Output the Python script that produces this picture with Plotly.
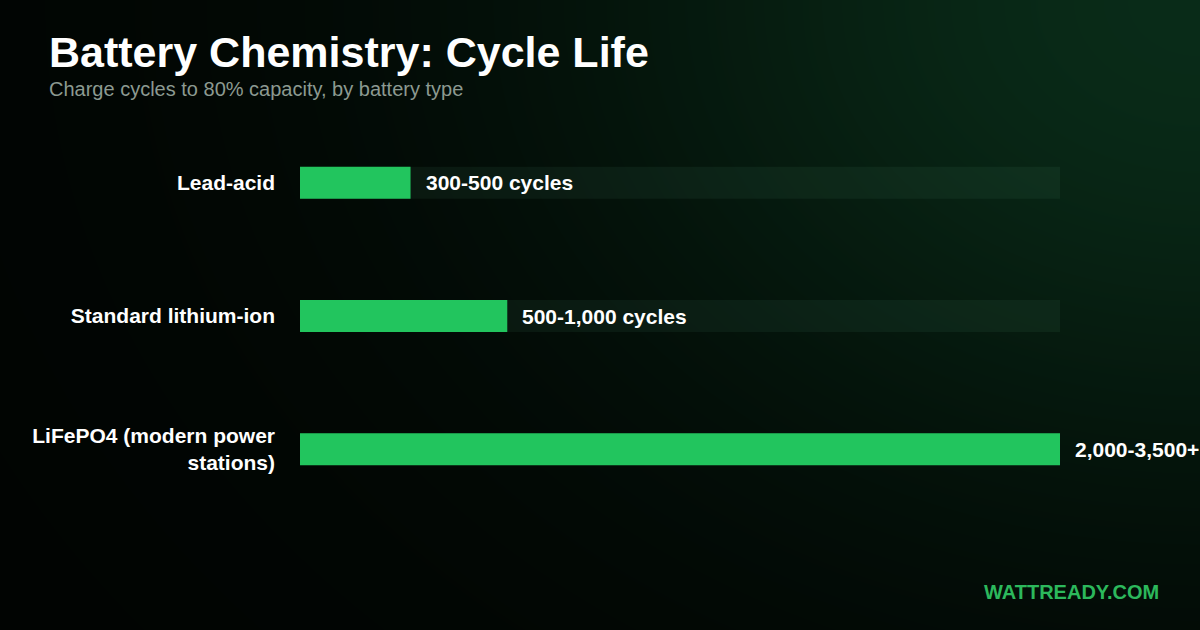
import numpy as np
import plotly.graph_objects as go

# ---- data ----
categories = ["Lead-acid", "Standard lithium-ion", "LiFePO4 (modern power<br>stations)"]
cycle_mid = [400, 750, 2750]          # midpoint of each range
range_labels = ["300-500 cycles", "500-1,000 cycles", "2,000-3,500+ cycles"]
scale_max = 2750

title = "Battery Chemistry: Cycle Life"
subtitle = "Charge cycles to 80% capacity, by battery type"
brand = "WATTREADY.COM"

W, H = 1200, 630
GREEN = "#22c55e"
FONT = "Liberation Sans, Arial, Helvetica, sans-serif"

# ---- background glow (style only) ----
gx = np.linspace(0, W, 121)
gy = np.linspace(0, H, 64)
XX, YY = np.meshgrid(gx, gy)
d = np.sqrt((XX - W) ** 2 + (1.3 * YY) ** 2)
glow = np.exp(-(d / 640.0) ** 2)

fig = go.Figure()
fig.add_trace(go.Heatmap(
    x=gx, y=gy, z=glow, zmin=0, zmax=1, zsmooth="best",
    colorscale=[[0, "rgb(1,4,2)"], [1, "rgb(9,43,24)"]],
    showscale=False, hoverinfo="skip", xaxis="x", yaxis="y",
))

# track bars
fig.add_trace(go.Bar(
    y=categories, x=[scale_max] * len(categories), orientation="h",
    marker=dict(color="rgba(120,200,150,0.07)", line=dict(width=0)),
    width=0.24, hoverinfo="skip", xaxis="x2", yaxis="y2",
))
# value bars
fig.add_trace(go.Bar(
    y=categories, x=cycle_mid, orientation="h",
    marker=dict(color=GREEN, line=dict(width=0)),
    width=0.24, hoverinfo="skip", xaxis="x2", yaxis="y2",
))

annotations = []
for cat, v, lab in zip(categories, cycle_mid, range_labels):
    annotations.append(dict(
        x=v, y=cat, xref="x2", yref="y2", text="<b>%s</b>" % lab,
        showarrow=False, xanchor="left", yanchor="middle", xshift=13,
        font=dict(family=FONT, size=21, color="white"),
    ))

def px(xp):
    return xp / W

def py(yp):
    return 1 - yp / H

annotations += [
    dict(x=px(47), y=py(52), xref="paper", yref="paper", text="<b>%s</b>" % title,
         showarrow=False, xanchor="left", yanchor="middle",
         font=dict(family=FONT, size=43, color="white")),
    dict(x=px(47), y=py(89), xref="paper", yref="paper", text=subtitle,
         showarrow=False, xanchor="left", yanchor="middle",
         font=dict(family=FONT, size=20, color="#8c9a91")),
    dict(x=px(1161), y=py(592), xref="paper", yref="paper", text="<b>%s</b>" % brand,
         showarrow=False, xanchor="right", yanchor="middle",
         font=dict(family=FONT, size=20, color="#2cb85c")),
]

fig.update_layout(
    width=W, height=H,
    margin=dict(l=0, r=0, t=0, b=0),
    paper_bgcolor="black", plot_bgcolor="rgba(0,0,0,0)",
    showlegend=False, barmode="overlay",
    xaxis=dict(domain=[0, 1], range=[0, W], visible=False, fixedrange=True),
    yaxis=dict(domain=[0, 1], range=[H, 0], visible=False, fixedrange=True),
    xaxis2=dict(domain=[300 / W, 1060 / W], range=[0, scale_max], anchor="y2",
                visible=False, fixedrange=True),
    yaxis2=dict(domain=[py(516), py(116)], anchor="x2", autorange="reversed",
                showgrid=False, zeroline=False, showline=False, ticks="",
                ticklabelstandoff=24,
                tickfont=dict(family=FONT, size=21, color="white", weight="bold"),
                fixedrange=True),
    annotations=annotations,
)

fig.write_html(
    "out.html",
    config={"displayModeBar": False},
    post_script="document.body.style.margin='0';document.body.style.background='black';",
)
